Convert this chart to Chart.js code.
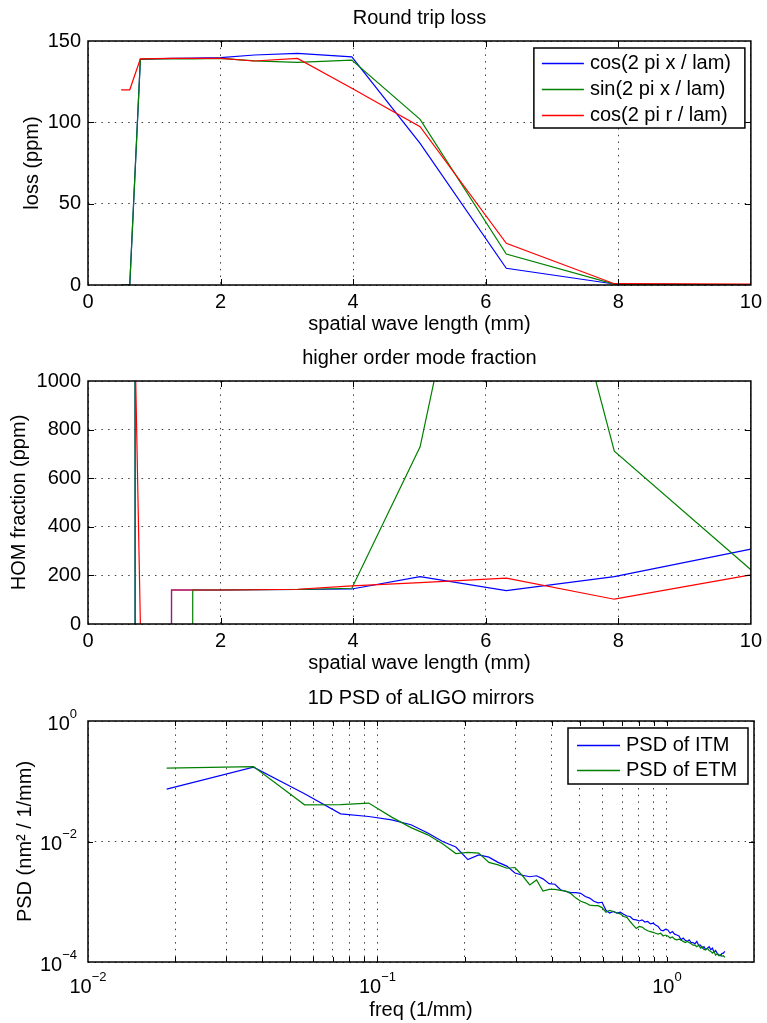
<!DOCTYPE html>
<html>
<head>
<meta charset="utf-8">
<title>Round trip loss / HOM fraction / PSD</title>
<script src="https://cdn.jsdelivr.net/npm/chart.js@4.4.0/dist/chart.umd.min.js"></script>
<style>
  html, body { margin: 0; padding: 0; background: #fff; }
  #page { position: relative; width: 767px; height: 1023px; }
  canvas { position: absolute; left: 0; }
</style>
</head>
<body>
<div id="page">
  <canvas id="lossChart" width="767" height="340" style="top:0"></canvas>
  <canvas id="homChart" width="767" height="340" style="top:340px"></canvas>
  <canvas id="psdChart" width="767" height="343" style="top:680px"></canvas>
</div>
<script>
// spatial wave length (mm)
const lam = [0.5, 0.63, 0.79, 1.0, 1.26, 1.58, 2.0, 2.51, 3.16, 3.98, 5.01, 6.31, 7.94, 10];

// round trip loss (ppm)
const lossCosX = [0, 0, 138.7, 139, 139.3, 139.5, 139.8, 141.4, 142.4, 140.3, 87, 10.3, 0.6, 0.1];
const lossSinX = [0, 0, 138.7, 139, 139, 139, 139.3, 137.8, 136.9, 138.3, 101.8, 19, 0.5, 0.1];
const lossCosR = [120, 120, 139, 139.2, 139.3, 139.3, 139.3, 137.7, 139.3, 120.9, 97.3, 25.6, 0.8, 0.5];

// higher order mode fraction (ppm) - the small wave lengths run far off the axes
const homCosX = [2e5, 4e5, -4.5e5, -4.5e5, 140, 140, 140, 141, 142, 144, 195, 137, 195, 308];
const homSinX = [2e5, 4e5, -4.5e5, -4.5e5, -4.5e5, 140, 140, 141, 142, 147, 729, 2400, 711, 223];
const homCosR = [3000, 2286, 0, -4.5e5, 140, 140, 140, 141, 143, 157, 170, 188.5, 102, 202];

// 1D PSD, freq (1/mm) and PSD (nm^2 / 1/mm)
const freq = [
  0.0187, 0.0373, 0.0560, 0.0746, 0.0933, 0.1120, 0.1306, 0.1493, 0.1679, 0.1866,
  0.2053, 0.2239, 0.2426, 0.2612, 0.2799, 0.2986, 0.3172, 0.3359, 0.3545, 0.3732,
  0.3919, 0.4105, 0.4292, 0.4478, 0.4665, 0.4852, 0.5038, 0.5225, 0.5411, 0.5598,
  0.5785, 0.5971, 0.6158, 0.6344, 0.6531, 0.6718, 0.6904, 0.7091, 0.7277, 0.7464,
  0.7651, 0.7837, 0.8024, 0.8210, 0.8397, 0.8584, 0.8770, 0.8957, 0.9143, 0.9330,
  0.9517, 0.9703, 0.9890, 1.0076, 1.0263, 1.0450, 1.0636, 1.0823, 1.1009, 1.1196,
  1.1383, 1.1569, 1.1756, 1.1942, 1.2129, 1.2316, 1.2502, 1.2689, 1.2875, 1.3062,
  1.3249, 1.3435, 1.3622, 1.3808, 1.3995, 1.4182, 1.4368, 1.4555, 1.4741, 1.4928,
  1.5115, 1.5301, 1.5488, 1.5674, 1.5861
];
const psdItm = [
  0.074, 0.171, 0.062, 0.0288, 0.026, 0.0229, 0.0190, 0.0138, 0.0100, 0.0081,
  0.0050, 0.0060, 0.0055, 0.0045, 0.0039, 0.0030, 0.00275, 0.0026, 0.0027, 0.0024,
  0.0020, 0.00195, 0.00158, 0.00148, 0.00142, 0.00142, 0.00138, 0.00122, 0.00115, 0.00102,
  0.00096, 0.00098, 0.00072, 0.00065, 0.00069, 0.00065, 0.00067, 0.00062, 0.00058, 0.00057,
  0.00051, 0.00050, 0.00048, 0.00050, 0.00046, 0.00047, 0.00043, 0.00044, 0.00041, 0.00039,
  0.00034, 0.00033, 0.00035, 0.00034, 0.00030, 0.00032, 0.00029, 0.00028, 0.00027, 0.000234,
  0.00025, 0.00023, 0.00022, 0.000234, 0.00021, 0.00021, 0.00020, 0.00022, 0.00019, 0.00019,
  0.00017, 0.00018, 0.00016, 0.00017, 0.00018, 0.00016, 0.00017, 0.000145, 0.000155, 0.00014,
  0.00013, 0.000127, 0.000138, 0.00014, 0.00015
];
const psdEtm = [
  0.165, 0.175, 0.0406, 0.041, 0.0434, 0.0254, 0.0170, 0.0129, 0.0092, 0.0063,
  0.0066, 0.0064, 0.0045, 0.0041, 0.0036, 0.0037, 0.0027, 0.0019, 0.0023, 0.0015,
  0.0016, 0.0016, 0.00155, 0.0015, 0.00136, 0.00115, 0.00102, 0.00096, 0.00088, 0.00086,
  0.00086, 0.00080, 0.00067, 0.00072, 0.00069, 0.00065, 0.00063, 0.00057, 0.00055, 0.00047,
  0.00041, 0.00036, 0.00039, 0.00038, 0.00035, 0.00033, 0.00032, 0.00031, 0.00030, 0.00029,
  0.00030, 0.00027, 0.00028, 0.00027, 0.00025, 0.00026, 0.00024, 0.000234, 0.00024, 0.00023,
  0.00022, 0.00021, 0.00022, 0.00021, 0.00020, 0.00019, 0.00019, 0.00018, 0.00019, 0.00017,
  0.00018, 0.00016, 0.00016, 0.00017, 0.000155, 0.00015, 0.00014, 0.00015, 0.00013, 0.000138,
  0.000127, 0.000133, 0.000124, 0.000127, 0.00012
];

// log axis grid/tick positions
const freqTicks = [0.01, 0.02, 0.03, 0.04, 0.05, 0.06, 0.07, 0.08, 0.09,
                   0.1, 0.2, 0.3, 0.4, 0.5, 0.6, 0.7, 0.8, 0.9, 1, 2];
const psdTicks = [1e-4, 1e-2, 1];

const FONT = '"Liberation Sans", Arial, Helvetica, sans-serif';
Chart.defaults.font.family = FONT;
Chart.defaults.font.size = 20;
Chart.defaults.color = '#000';

const BLUE = '#0000ff', GREEN = '#008000', RED = '#ff0000';
const gridColor = 'rgba(0,0,0,0.75)';
const dots = [1.5, 5.2];

const pts = (xs, ys) => xs.map((x, i) => ({ x: x, y: ys[i] }));

const isDecade = v => Math.abs(Math.log10(v) - Math.round(Math.log10(v))) < 1e-9;
const expText = v => {
    const e = Math.round(Math.log10(v));
    return e < 0 ? '\u2212' + (-e) : String(e);
};

const drawLegend = (chart, L) => {
    const { ctx, chartArea: a } = chart;
    const x0 = a.right - L.right - L.width;
    const y0 = a.top + L.top;
    ctx.setLineDash([]);
    ctx.globalAlpha = 1;
    ctx.fillStyle = '#fff';
    ctx.fillRect(x0, y0, L.width, L.height);
    ctx.lineWidth = 1.5;
    ctx.strokeStyle = '#000';
    ctx.strokeRect(x0, y0, L.width, L.height);
    ctx.font = '20px ' + FONT;
    ctx.textBaseline = 'middle';
    ctx.textAlign = 'left';
    chart.data.datasets.forEach((ds, i) => {
        const y = Math.round(y0 + L.first + i * L.step) + 0.5;
        ctx.beginPath();
        ctx.strokeStyle = L.colors[i];
        ctx.lineWidth = 1.4;
        ctx.moveTo(x0 + L.line0, y);
        ctx.lineTo(x0 + L.line1, y);
        ctx.stroke();
        ctx.fillStyle = '#000';
        ctx.fillText(ds.label, x0 + L.text, y);
    });
};

const drawLogLabels = chart => {
    const { ctx, chartArea: a } = chart;
    const sx = chart.scales.x, sy = chart.scales.y;
    const big = '20px ' + FONT, small = '13px ' + FONT;
    ctx.fillStyle = '#000';
    ctx.textBaseline = 'middle';
    sx.ticks.filter(t => isDecade(t.value)).forEach(t => {
        const px = sx.getPixelForValue(t.value);
        const ex = expText(t.value);
        ctx.font = big;
        const wb = ctx.measureText('10').width;
        ctx.font = small;
        const we = ctx.measureText(ex).width;
        const left = px - (wb + we) / 2;
        ctx.textAlign = 'left';
        ctx.font = big;
        ctx.fillText('10', left, a.bottom + 25);
        ctx.font = small;
        ctx.fillText(ex, left + wb, a.bottom + 15);
    });
    sy.ticks.filter(t => isDecade(t.value)).forEach(t => {
        const py = sy.getPixelForValue(t.value);
        const ex = expText(t.value);
        const right = a.left - 11;
        ctx.textAlign = 'right';
        ctx.font = small;
        const we = ctx.measureText(ex).width;
        ctx.fillText(ex, right, py - 7);
        ctx.font = big;
        ctx.fillText('10', right - we, py + 3);
    });
};

// box, inward tick marks, legend and log labels in the MATLAB look
const matlabAxes = {
    id: 'matlabAxes',
    afterDraw(chart, args, opts) {
        const { ctx, chartArea: a } = chart;
        const sx = chart.scales.x, sy = chart.scales.y;
        const tl = opts.tickLen || 6;
        ctx.save();
        ctx.setLineDash([]);
        ctx.strokeStyle = '#000';
        ctx.lineWidth = 1;
        ctx.beginPath();
        sx.ticks.forEach(t => {
            const px = Math.round(sx.getPixelForValue(t.value)) + 0.5;
            if (px <= a.left + 2 || px >= a.right - 2) return;
            ctx.moveTo(px, a.bottom);
            ctx.lineTo(px, a.bottom - tl);
            ctx.moveTo(px, a.top);
            ctx.lineTo(px, a.top + tl);
        });
        sy.ticks.forEach(t => {
            const py = Math.round(sy.getPixelForValue(t.value)) + 0.5;
            if (py <= a.top + 2 || py >= a.bottom - 2) return;
            ctx.moveTo(a.left, py);
            ctx.lineTo(a.left + tl, py);
            ctx.moveTo(a.right, py);
            ctx.lineTo(a.right - tl, py);
        });
        ctx.stroke();
        ctx.lineWidth = 1.5;
        ctx.strokeRect(a.left, a.top, a.right - a.left, a.bottom - a.top);
        if (opts.legend) drawLegend(chart, opts.legend);
        if (opts.logLabels) drawLogLabels(chart);
        ctx.restore();
    }
};

const baseOptions = (titleText, extra) => ({
    responsive: false,
    animation: false,
    elements: {
        point: { radius: 0 },
        line: { borderWidth: 1.2, tension: 0, fill: false }
    },
    layout: { padding: { left: 0, right: 13, top: 0, bottom: 0 } },
    plugins: {
        legend: { display: false },
        tooltip: { enabled: false },
        title: {
            display: true,
            fullSize: false,
            text: titleText,
            color: '#000',
            font: { size: 20, weight: 'normal' },
            padding: { top: 6, bottom: 11 }
        },
        matlabAxes: extra
    }
});

const linearAxis = (min, max, step, title, titlePad, size, isY) => ({
    type: 'linear',
    min: min,
    max: max,
    ticks: {
        stepSize: step, padding: isY ? 7 : 5, maxRotation: 0, autoSkip: false, color: '#000',
        callback: v => String(v)
    },
    grid: { color: gridColor, lineWidth: 1, drawTicks: false },
    border: { display: false, dash: dots },
    title: { display: true, text: title, color: '#000', padding: titlePad },
    afterFit: s => { if (isY) s.width = size; else s.height = size; }
});

// Round trip loss
new Chart(document.getElementById('lossChart'), {
    type: 'line',
    data: {
        datasets: [
            { label: 'cos(2 pi x / lam)', data: pts(lam, lossCosX), borderColor: BLUE, order: 3 },
            { label: 'sin(2 pi x / lam)', data: pts(lam, lossSinX), borderColor: GREEN, order: 2 },
            { label: 'cos(2 pi r / lam)', data: pts(lam, lossCosR), borderColor: RED, order: 1 }
        ]
    },
    options: Object.assign(baseOptions('Round trip loss', {
        tickLen: 6,
        legend: { right: 6, top: 7, width: 211, height: 80, first: 15, step: 26, line0: 8, line1: 50, text: 56,
                  colors: [BLUE, GREEN, RED] }
    }), {
        scales: {
            x: linearAxis(0, 10, 2, 'spatial wave length (mm)', { top: 0, bottom: 4 }, 55, false),
            y: linearAxis(0, 150, 50, 'loss (ppm)', { top: 20.5, bottom: 0 }, 88, true)
        }
    }),
    plugins: [matlabAxes]
});

// higher order mode fraction
new Chart(document.getElementById('homChart'), {
    type: 'line',
    data: {
        datasets: [
            { label: 'cos(2 pi x / lam)', data: pts(lam, homCosX), borderColor: BLUE, order: 3 },
            { label: 'sin(2 pi x / lam)', data: pts(lam, homSinX), borderColor: GREEN, order: 2 },
            { label: 'cos(2 pi r / lam)', data: pts(lam, homCosR), borderColor: RED, order: 1 }
        ]
    },
    options: Object.assign(baseOptions('higher order mode fraction', { tickLen: 6 }), {
        scales: {
            x: linearAxis(0, 10, 2, 'spatial wave length (mm)', { top: 0, bottom: 5 }, 56, false),
            y: linearAxis(0, 1000, 200, 'HOM fraction (ppm)', { top: 7.5, bottom: 0 }, 88, true)
        }
    }),
    plugins: [matlabAxes]
});

// 1D PSD of aLIGO mirrors
new Chart(document.getElementById('psdChart'), {
    type: 'line',
    data: {
        datasets: [
            { label: 'PSD of ITM', data: pts(freq, psdItm), borderColor: BLUE, order: 2 },
            { label: 'PSD of ETM', data: pts(freq, psdEtm), borderColor: GREEN, order: 1 }
        ]
    },
    options: Object.assign(baseOptions('1D PSD of aLIGO mirrors', {
        tickLen: 5,
        logLabels: true,
        legend: { right: 6, top: 7, width: 180, height: 56, first: 17, step: 24.5, line0: 9, line1: 52, text: 58,
                  colors: [BLUE, GREEN] }
    }), {
        scales: {
            x: {
                type: 'logarithmic',
                min: 0.01,
                max: 2,
                ticks: { display: false, autoSkip: false },
                grid: { color: gridColor, lineWidth: 1, drawTicks: false },
                border: { display: false, dash: dots },
                title: { display: true, text: 'freq (1/mm)', color: '#000', padding: { top: 0, bottom: 1 } },
                afterBuildTicks: s => { s.ticks = freqTicks.map(v => ({ value: v })); },
                afterFit: s => { s.height = 61; }
            },
            y: {
                type: 'logarithmic',
                min: 1e-4,
                max: 1,
                ticks: { display: false, autoSkip: false },
                grid: { color: gridColor, lineWidth: 1, drawTicks: false },
                border: { display: false, dash: dots },
                title: { display: true, text: 'PSD (nm\u00B2 / 1/mm)', color: '#000', padding: { top: 13.5, bottom: 0 } },
                afterBuildTicks: s => { s.ticks = psdTicks.map(v => ({ value: v })); },
                afterFit: s => { s.width = 88; }
            }
        }
    }),
    plugins: [matlabAxes]
});
</script>
</body>
</html>
